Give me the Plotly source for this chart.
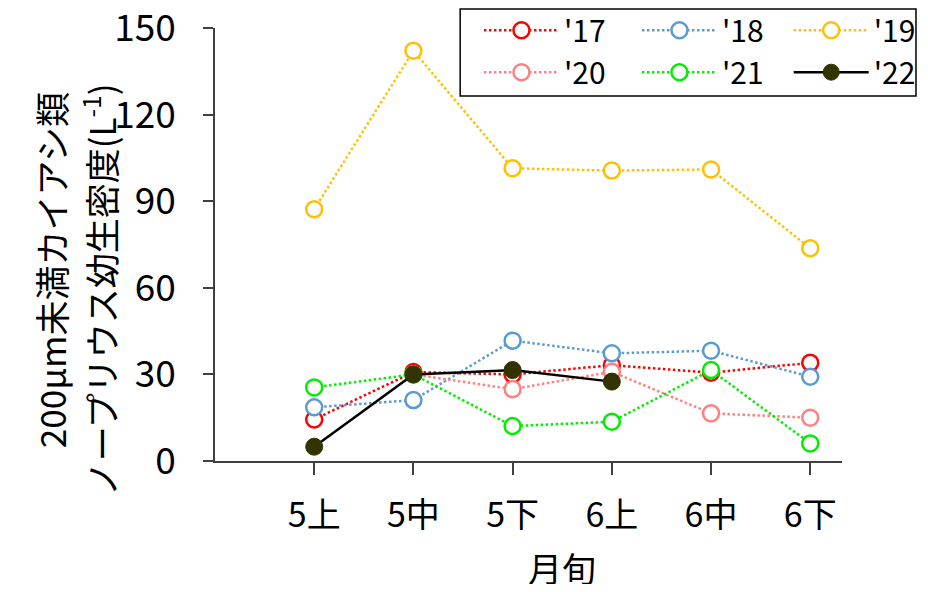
import plotly.graph_objects as go

categories = ["5上", "5中", "5下", "6上", "6中", "6下"]
series_names = ["'17", "'18", "'19", "'20", "'21", "'22"]
v17 = [14.4, 30.8, 30.0, 33.2, 30.6, 34.0]
v18 = [18.6, 21.1, 41.7, 37.3, 38.2, 29.2]
v19 = [87.2, 142.1, 101.4, 100.6, 101.0, 73.7]
v20 = [None, 30.0, 24.9, 30.9, 16.5, 15.0]
v21 = [25.5, 30.0, 12.1, 13.6, 31.5, 6.1]
v22 = [4.95, 30.0, 31.5, 27.5, None, None]
y_ticks = [0, 30, 60, 90, 120, 150]

colors = ["#FF0000", "#5B9BD5", "#FFC000", "#FF8080", "#00EE00", "#000000"]
values = [v17, v18, v19, v20, v21, v22]
# legend columns: each column is its own vertical legend
legend_cols = ["legend", "legend2", "legend3", "legend", "legend2", "legend3"]

FONT = "Noto Sans CJK JP"

fig = go.Figure()
for name, vals, col, lg in zip(series_names, values, colors, legend_cols):
    if name == "'22":
        fig.add_trace(go.Scatter(
            x=categories, y=vals, name=name, mode="lines+markers", legend=lg,
            line=dict(color="#000000", width=2.5),
            marker=dict(size=17, color="#333300", line=dict(color="#333300", width=1)),
            connectgaps=False))
    else:
        fig.add_trace(go.Scatter(
            x=categories, y=vals, name=name, mode="lines+markers", legend=lg,
            line=dict(color=col, width=2.5, dash="2.5px,2.5px"),
            marker=dict(size=16, color="white", line=dict(color=col, width=2.5)),
            connectgaps=False))

legend_common = dict(
    orientation="v", xanchor="left", yanchor="top", y=1.055,
    borderwidth=0, bgcolor="rgba(0,0,0,0)",
    font=dict(family=FONT, size=30, color="#000000"),
    itemwidth=75, traceorder="normal", tracegroupgap=0,
)

fig.update_layout(
    width=920, height=576,
    margin=dict(l=207, r=86, t=20, b=123, autoexpand=False),
    paper_bgcolor="white", plot_bgcolor="white",
    font=dict(family=FONT, color="#000000", size=34),
    showlegend=True,
    legend=dict(x=0.421, **legend_common),
    legend2=dict(x=0.673, **legend_common),
    legend3=dict(x=0.915, **legend_common),
    shapes=[dict(type="rect", xref="paper", yref="paper",
                 x0=0.391, x1=1.118, y0=0.843, y1=1.044,
                 line=dict(color="#000000", width=1.5), fillcolor="rgba(0,0,0,0)")],
    xaxis=dict(
        type="category", range=[-1, 5.32],
        showline=True, linecolor="#404040", linewidth=1.5,
        ticks="outside", ticklen=12, tickcolor="#404040", tickwidth=1.5,
        showgrid=False, zeroline=False,
        tickfont=dict(family=FONT, size=34),
        ticklabelstandoff=11,
    ),
    yaxis=dict(
        range=[0, 150], tickvals=y_ticks,
        showline=True, linecolor="#404040", linewidth=1.5,
        ticks="outside", ticklen=10, tickcolor="#404040", tickwidth=1.5,
        showgrid=False, zeroline=False,
        tickfont=dict(family=FONT, size=37),
        ticklabelstandoff=20, ticklabeloverflow="allow",
    ),
    annotations=[
        dict(text="月旬", xref="paper", yref="paper", x=0.553, y=-0.245,
             xanchor="center", yanchor="middle", showarrow=False,
             font=dict(family=FONT, size=34)),
        dict(text="200μm未満カイアシ類",
             xref="paper", yref="paper", x=-0.263, y=0.441,
             xanchor="center", yanchor="middle", textangle=-90, showarrow=False,
             font=dict(family=FONT, size=35)),
        dict(text="ノープリウス幼生密度(L<sup>-1</sup>)",
             xref="paper", yref="paper", x=-0.183, y=0.395,
             xanchor="center", yanchor="middle", textangle=-90, showarrow=False,
             font=dict(family=FONT, size=35)),
    ],
)

fig.write_html("out.html")
